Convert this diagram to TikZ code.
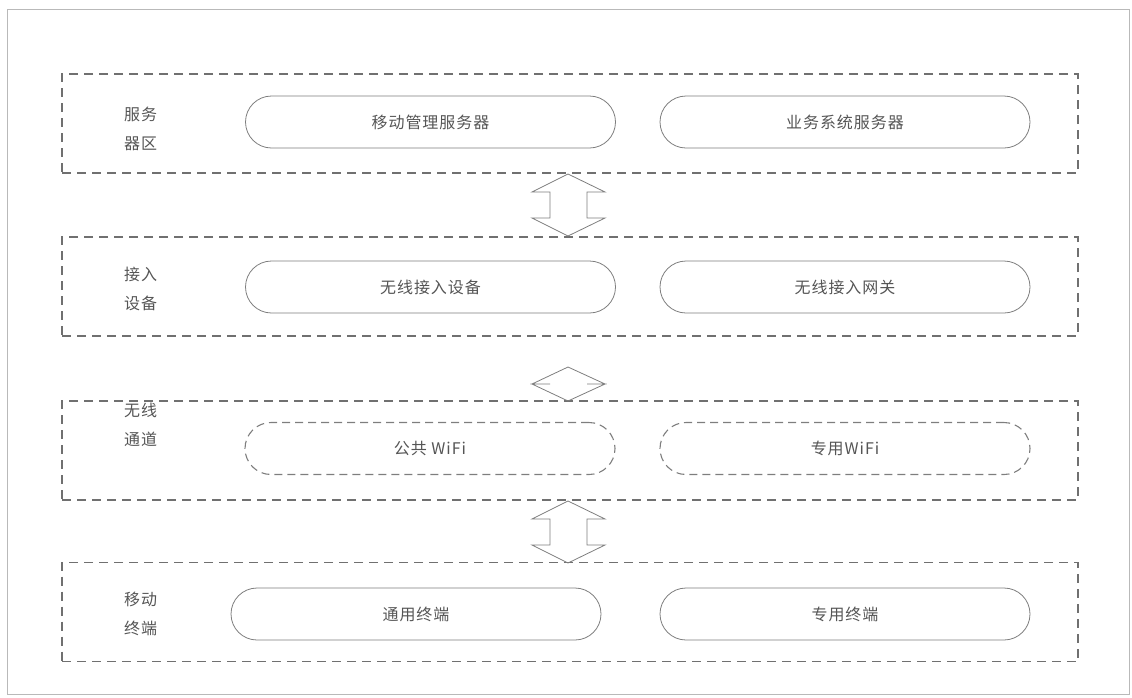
\documentclass[tikz,border=0pt]{standalone}
\usepackage{fontspec}
\setmainfont{Liberation Serif}
\newfontfamily\cjk[LetterSpace=6]{Noto Sans CJK SC}
\definecolor{linegray}{HTML}{707070}
\definecolor{txtgray}{HTML}{555555}
\tikzset{
  layer/.style={draw=linegray, line width=1.1pt, dash pattern=on 9pt off 6pt, minimum width=1016pt, minimum height=99pt, inner sep=0pt},
  pill/.style={draw=linegray!90, line width=0.8pt, rounded corners=26pt, minimum width=370pt, minimum height=52pt, inner sep=0pt, font=\cjk\fontsize{16}{19}\selectfont, text=txtgray},
  dpill/.style={pill, line width=1.1pt, dash pattern=on 8pt off 5pt},
  lab/.style={anchor=west, align=left, inner sep=0pt, font=\cjk\fontsize{16}{29}\selectfont, text=txtgray},
  blockarrow/.style={draw=linegray!90, line width=0.8pt, line join=miter}
}
\begin{document}
\begin{tikzpicture}[x=1pt,y=-1pt]
\useasboundingbox (0,0) rectangle (1132,697);
\draw[gray!55, line width=0.8pt] (7,9) rectangle (1129,694);

% layers
\node[layer] (L1) at (570,123.5) {};
\node[layer] (L2) at (570,286.5) {};
\node[layer] (L3) at (570,450.5) {};
\node[layer] (L4) at (570,612) {};

% labels
\node[lab] (t1) at (124,129) {服务\\器区};
\node[lab] (t2) at (124,289) {接入\\设备};
\node[lab] (t3) at (124,425) {无线\\通道};
\node[lab] (t4) at (124,614) {移动\\终端};

% pills
\node[pill] (p11) at (430.5,122) {移动管理服务器};
\node[pill] (p12) at (845,122) {业务系统服务器};
\node[pill] (p21) at (430.5,287) {无线接入设备};
\node[pill] (p22) at (845,287) {无线接入网关};
\node[dpill] (p31) at (430,448.5) {{\cjk 公共} WiFi};
\node[dpill] (p32) at (845,448.5) {{\cjk 专用}WiFi};
\node[pill] (p41) at (416,614) {通用终端};
\node[pill] (p42) at (845,614) {专用终端};

% block arrows
\draw[blockarrow] (568,174) -- (605,192) -- (587,192) -- (587,218) -- (605,218) -- (568,236) -- (532,218) -- (550,218) -- (550,192) -- (532,192) -- cycle;
\draw[blockarrow] (568,367) -- (605,384) -- (587,384) -- (605,384) -- (568,401) -- (532,384) -- (550,384) -- (532,384) -- cycle;
\draw[blockarrow] (568,501) -- (605,519) -- (587,519) -- (587,545) -- (605,545) -- (568,563) -- (532,545) -- (550,545) -- (550,519) -- (532,519) -- cycle;
\end{tikzpicture}
\end{document}
